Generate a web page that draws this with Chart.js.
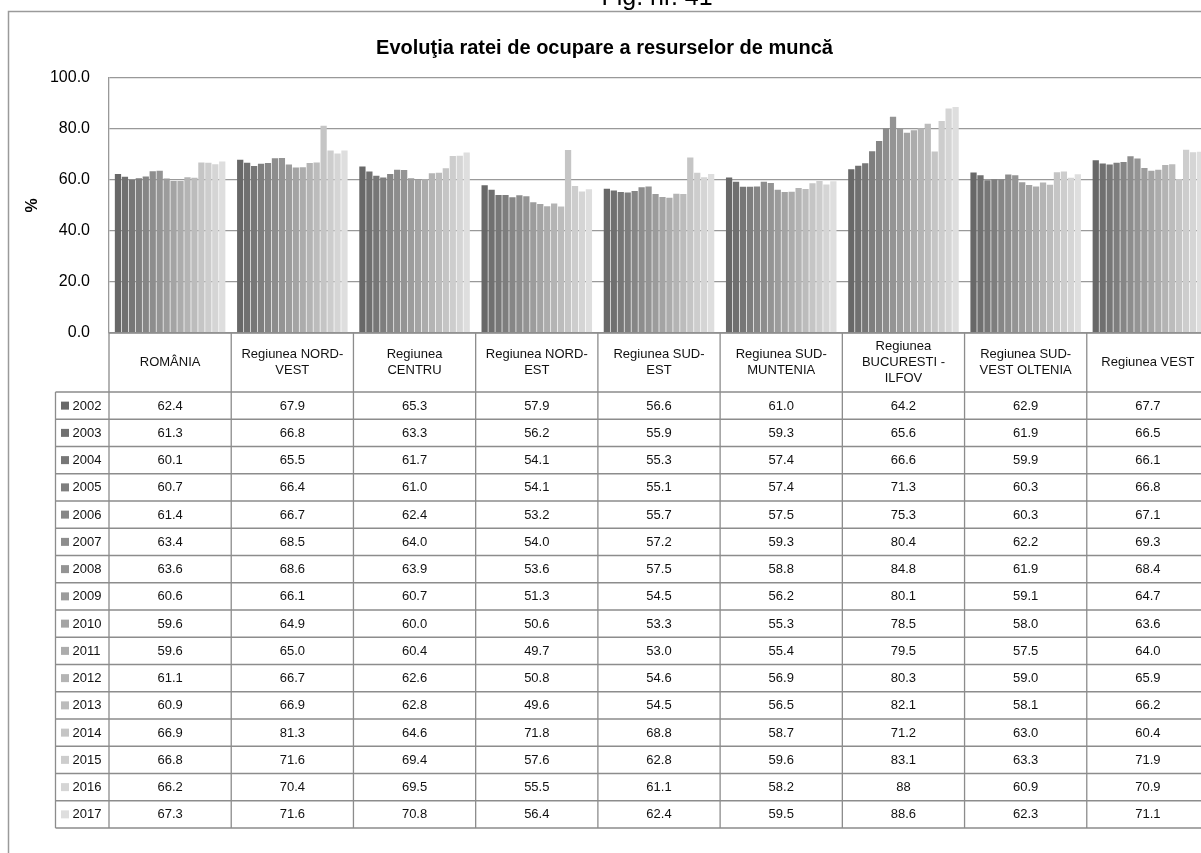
<!DOCTYPE html>
<html>
<head>
<meta charset="utf-8">
<script src="https://cdn.jsdelivr.net/npm/chart.js@4"></script>
<style>
  html, body { margin: 0; padding: 0; overflow: hidden; background: #fff; }
  #wrap { position: absolute; left: 0; top: 0; }
</style>
</head>
<body>
<div id="wrap"><canvas id="ocupare" width="1215" height="853"></canvas></div>
<script>
// categories (header cells of the table, split in lines)
const categories = [
  ['ROMÂNIA'],
  ['Regiunea NORD-', 'VEST'],
  ['Regiunea', 'CENTRU'],
  ['Regiunea NORD-', 'EST'],
  ['Regiunea SUD-', 'EST'],
  ['Regiunea SUD-', 'MUNTENIA'],
  ['Regiunea', 'BUCURESTI -', 'ILFOV'],
  ['Regiunea SUD-', 'VEST OLTENIA'],
  ['Regiunea VEST']
];
const years = ['2002','2003','2004','2005','2006','2007','2008','2009','2010','2011','2012','2013','2014','2015','2016','2017'];

// values as printed in the table, 2002..2017
const romania     = ['62.4','61.3','60.1','60.7','61.4','63.4','63.6','60.6','59.6','59.6','61.1','60.9','66.9','66.8','66.2','67.3'];
const nordVest    = ['67.9','66.8','65.5','66.4','66.7','68.5','68.6','66.1','64.9','65.0','66.7','66.9','81.3','71.6','70.4','71.6'];
const centru      = ['65.3','63.3','61.7','61.0','62.4','64.0','63.9','60.7','60.0','60.4','62.6','62.8','64.6','69.4','69.5','70.8'];
const nordEst     = ['57.9','56.2','54.1','54.1','53.2','54.0','53.6','51.3','50.6','49.7','50.8','49.6','71.8','57.6','55.5','56.4'];
const sudEst      = ['56.6','55.9','55.3','55.1','55.7','57.2','57.5','54.5','53.3','53.0','54.6','54.5','68.8','62.8','61.1','62.4'];
const sudMuntenia = ['61.0','59.3','57.4','57.4','57.5','59.3','58.8','56.2','55.3','55.4','56.9','56.5','58.7','59.6','58.2','59.5'];
const bucIlfov    = ['64.2','65.6','66.6','71.3','75.3','80.4','84.8','80.1','78.5','79.5','80.3','82.1','71.2','83.1','88','88.6'];
const sudVestOlt  = ['62.9','61.9','59.9','60.3','60.3','62.2','61.9','59.1','58.0','57.5','59.0','58.1','63.0','63.3','60.9','62.3'];
const vest        = ['67.7','66.5','66.1','66.8','67.1','69.3','68.4','64.7','63.6','64.0','65.9','66.2','60.4','71.9','70.9','71.1'];

const yTicks = [0, 20, 40, 60, 80, 100];

const regions = [romania, nordVest, centru, nordEst, sudEst, sudMuntenia, bucIlfov, sudVestOlt, vest];

// grey shades, dark (2002) to light (2017)
const shades = ['#686868','#707070','#777777','#7e7e7e','#868686','#8d8d8d','#949494','#9c9c9c',
                '#a4a4a4','#acacac','#b4b4b4','#bcbcbc','#c5c5c5','#cdcdcd','#d5d5d5','#dedede'];

const datasets = years.map((y, i) => ({
  label: y,
  data: regions.map(r => parseFloat(r[i])),
  backgroundColor: shades[i],
  borderWidth: 0,
  barPercentage: 0.9,
  categoryPercentage: 0.91
}));

const FONT = '"Liberation Sans", Arial, sans-serif';

const framePlugin = {
  id: 'frame',
  beforeDraw(chart) {
    const ctx = chart.ctx;
    ctx.save();
    ctx.strokeStyle = '#9a9a9a';
    ctx.lineWidth = 1.5;
    ctx.beginPath();
    ctx.moveTo(8.5, chart.height + 5);
    ctx.lineTo(8.5, 11.5);
    ctx.lineTo(chart.width + 5, 11.5);
    ctx.stroke();
    ctx.fillStyle = '#000';
    ctx.font = '25px ' + FONT;
    ctx.textAlign = 'center';
    ctx.textBaseline = 'alphabetic';
    ctx.fillText('Fig. nr. 41', 657, 5);
    ctx.restore();
  }
};

const tablePlugin = {
  id: 'dataTable',
  afterDraw(chart) {
    const ctx = chart.ctx;
    const xs = chart.scales.x;
    const top = chart.chartArea.bottom;
    const n = categories.length;
    const colW = (xs.right - xs.left) / n;
    const headH = 59;
    const rowH = 27.25;
    const labelLeft = 55.5;
    const bodyTop = top + headH;
    const bottom = bodyTop + rowH * years.length;
    const right = xs.right;

    ctx.save();
    ctx.strokeStyle = '#8c8c8c';
    ctx.lineWidth = 1.3;
    ctx.beginPath();
    // header top (axis line)
    ctx.moveTo(xs.left, top); ctx.lineTo(right, top);
    // row lines
    for (let r = 0; r <= years.length; r++) {
      const y = bodyTop + r * rowH;
      ctx.moveTo(labelLeft, y); ctx.lineTo(right, y);
    }
    // column lines
    for (let c = 0; c <= n; c++) {
      const x = xs.left + c * colW;
      ctx.moveTo(x, top); ctx.lineTo(x, bottom);
    }
    ctx.moveTo(labelLeft, bodyTop); ctx.lineTo(labelLeft, bottom);
    ctx.stroke();

    ctx.fillStyle = '#111';
    ctx.font = '13px ' + FONT;
    ctx.textAlign = 'center';
    ctx.textBaseline = 'middle';
    // header labels
    categories.forEach((lines, c) => {
      const cx = xs.getPixelForValue(c);
      const lh = 16;
      const y0 = top + headH / 2 - (lines.length - 1) * lh / 2;
      lines.forEach((t, k) => ctx.fillText(t, cx, y0 + k * lh));
    });
    // body
    years.forEach((yr, r) => {
      const cy = bodyTop + r * rowH + rowH / 2;
      ctx.fillStyle = shades[r];
      ctx.fillRect(61, cy - 4, 8, 8);
      ctx.fillStyle = '#111';
      ctx.textAlign = 'left';
      ctx.fillText(yr, 72.5, cy + 0.5);
      ctx.textAlign = 'center';
      regions.forEach((reg, c) => {
        ctx.fillText(reg[r], xs.getPixelForValue(c), cy + 0.5);
      });
    });
    ctx.restore();
  }
};

new Chart(document.getElementById('ocupare'), {
  type: 'bar',
  data: {
    labels: categories.map(c => c.join(' ')),
    datasets: datasets
  },
  options: {
    responsive: false,
    animation: false,
    layout: { padding: { left: 0, top: 0, right: 6, bottom: 520 } },
    plugins: {
      legend: { display: false },
      tooltip: { enabled: false },
      title: {
        display: true,
        text: 'Evoluţia ratei de ocupare a resurselor de muncă',
        color: '#000',
        font: { family: FONT, size: 20, weight: 'bold' },
        padding: { top: 36, bottom: 18 }
      }
    },
    scales: {
      x: { display: false },
      y: {
        min: 0,
        max: 100,
        afterFit(scale) { scale.width = 109; },
        afterBuildTicks(scale) { scale.ticks = yTicks.map(v => ({ value: v })); },
        ticks: {
          padding: 19,
          color: '#000',
          font: { family: FONT, size: 16 },
          callback: v => v.toFixed(1)
        },
        grid: { color: '#999', lineWidth: 1.3, drawTicks: false },
        border: { color: '#999', width: 1.3 },
        title: {
          display: true,
          text: '%',
          color: '#000',
          font: { family: FONT, size: 16, weight: 'bold' },
          padding: { top: 23 }
        }
      }
    }
  },
  plugins: [framePlugin, tablePlugin]
});
</script>
</body>
</html>
